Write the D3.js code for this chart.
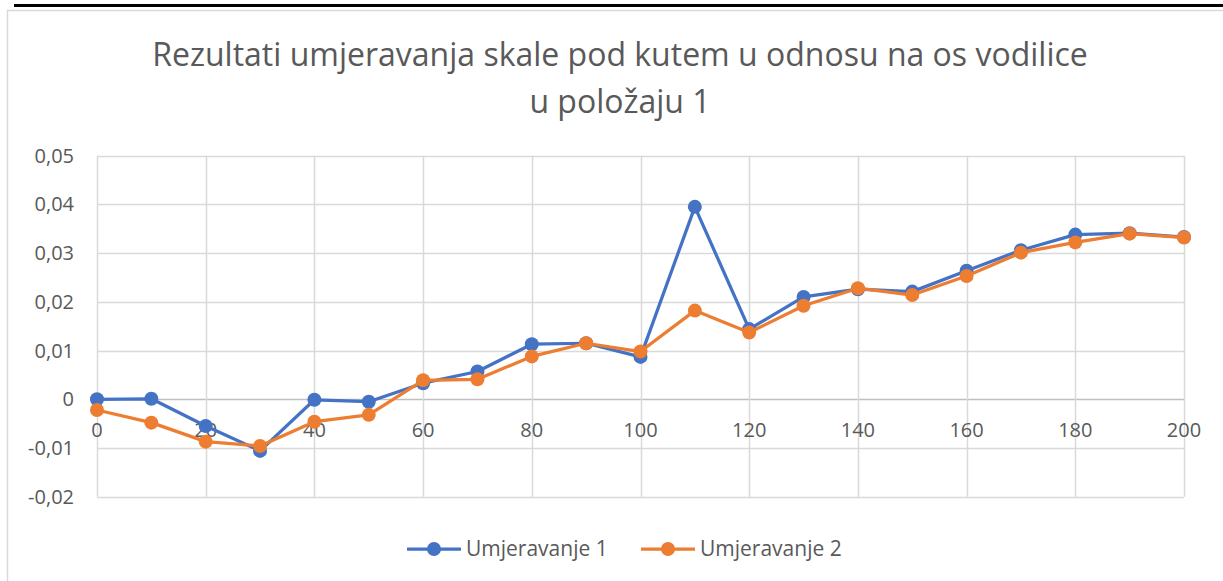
<!DOCTYPE html>
<html>
<head>
<meta charset="utf-8">
<script src="https://cdn.jsdelivr.net/npm/d3@7"></script>
<style>
  body { margin: 0; background: #fff; }
  text { font-family: 'Open Sans', sans-serif; fill: #595959; }
</style>
</head>
<body>
<svg id="chart" width="1223" height="581"></svg>
<script>
const xValues = [0,10,20,30,40,50,60,70,80,90,100,110,120,130,140,150,160,170,180,190,200];
const umjeravanje1 = [0,0.0001,-0.0055,-0.0106,-0.0001,-0.0005,0.0033,0.0057,0.0113,0.0115,0.0087,0.0395,0.0144,0.0210,0.0226,0.0221,0.0264,0.0306,0.0338,0.0341,0.0333];
const umjeravanje2 = [-0.0022,-0.0048,-0.0087,-0.0096,-0.0046,-0.0032,0.0039,0.0041,0.0088,0.0115,0.0098,0.0182,0.0137,0.0192,0.0228,0.0214,0.0253,0.0301,0.0322,0.0340,0.0332];
const xTicks = [0,20,40,60,80,100,120,140,160,180,200];
const yTicks = [-0.02,-0.01,0,0.01,0.02,0.03,0.04,0.05];
const seriesNames = ['Umjeravanje 1','Umjeravanje 2'];
const colors = ['#4472C4','#ED7D31'];

const svg = d3.select('#chart');

// okvir i crna linija na vrhu
svg.append('rect')
  .attr('x',7.5).attr('y',10.5)
  .attr('width',1240).attr('height',600)
  .attr('fill','none')
  .attr('stroke','#d9d9d9')
  .attr('stroke-width',1.5);

svg.append('line')
  .attr('x1',14).attr('x2',1223)
  .attr('y1',5.5).attr('y2',5.5)
  .attr('stroke','#000')
  .attr('stroke-width',3);

const x = d3.scaleLinear().domain([0,200]).range([97,1184]);
const y = d3.scaleLinear().domain([-0.02,0.05]).range([496.7,155.7]);

// mreza
svg.append('g')
  .selectAll('line')
  .data(yTicks)
  .enter()
  .append('line')
  .attr('x1',x(0)).attr('x2',x(200))
  .attr('y1',d => Math.round(y(d)) + 0.5)
  .attr('y2',d => Math.round(y(d)) + 0.5)
  .attr('stroke',d => d === 0 ? '#bfbfbf' : '#d9d9d9')
  .attr('stroke-width',1.5);

svg.append('g')
  .selectAll('line')
  .data(xTicks)
  .enter()
  .append('line')
  .attr('x1',d => Math.round(x(d)) + 0.5)
  .attr('x2',d => Math.round(x(d)) + 0.5)
  .attr('y1',y(0.05)).attr('y2',y(-0.02))
  .attr('stroke','#d9d9d9')
  .attr('stroke-width',1.5);

const fmt = d => d === 0 ? '0' : d3.format('.2f')(d).replace('.',',').replace('−','-');

svg.append('g')
  .selectAll('text')
  .data(yTicks)
  .enter()
  .append('text')
  .attr('x',74)
  .attr('y',d => y(d))
  .attr('dy','0.35em')
  .style('font-size','20px')
  .style('text-anchor','end')
  .text(fmt);

svg.append('g')
  .selectAll('text')
  .data(xTicks)
  .enter()
  .append('text')
  .attr('x',d => x(d))
  .attr('y',y(0) + 31)
  .attr('dy','0.35em')
  .style('font-size','20px')
  .style('text-anchor','middle')
  .text(d => d);

// naslov
const title = svg.append('text')
  .attr('x',620)
  .style('font-size','32px')
  .style('text-anchor','middle');
title.append('tspan').attr('x',620).attr('y',66)
  .text('Rezultati umjeravanja skale pod kutem u odnosu na os vodilice');
title.append('tspan').attr('x',620).attr('y',113)
  .text('u položaju 1');

// serije
const series = [umjeravanje1, umjeravanje2];
const line = d3.line()
  .x((d,i) => x(xValues[i]))
  .y(d => y(d));

series.forEach((s,k) => {
  svg.append('path')
    .datum(s)
    .attr('d',line)
    .attr('fill','none')
    .attr('stroke',colors[k])
    .attr('stroke-width',3.25)
    .attr('stroke-linejoin','round');

  svg.append('g')
    .selectAll('circle')
    .data(s)
    .enter()
    .append('circle')
    .attr('cx',(d,i) => x(xValues[i]))
    .attr('cy',d => y(d))
    .attr('r',7)
    .attr('fill',colors[k]);
});

// legenda
const legendX = [407, 641];
const legend = svg.append('g')
  .selectAll('g')
  .data(seriesNames)
  .enter()
  .append('g');

legend.append('line')
  .attr('x1',(d,i) => legendX[i])
  .attr('x2',(d,i) => legendX[i] + 54)
  .attr('y1',549).attr('y2',549)
  .attr('stroke',(d,i) => colors[i])
  .attr('stroke-width',3.25);

legend.append('circle')
  .attr('cx',(d,i) => legendX[i] + 27)
  .attr('cy',549)
  .attr('r',7)
  .attr('fill',(d,i) => colors[i]);

legend.append('text')
  .attr('x',(d,i) => legendX[i] + 59)
  .attr('y',549)
  .attr('dy','0.35em')
  .style('font-size','21px')
  .text(d => d);
</script>
</body>
</html>
